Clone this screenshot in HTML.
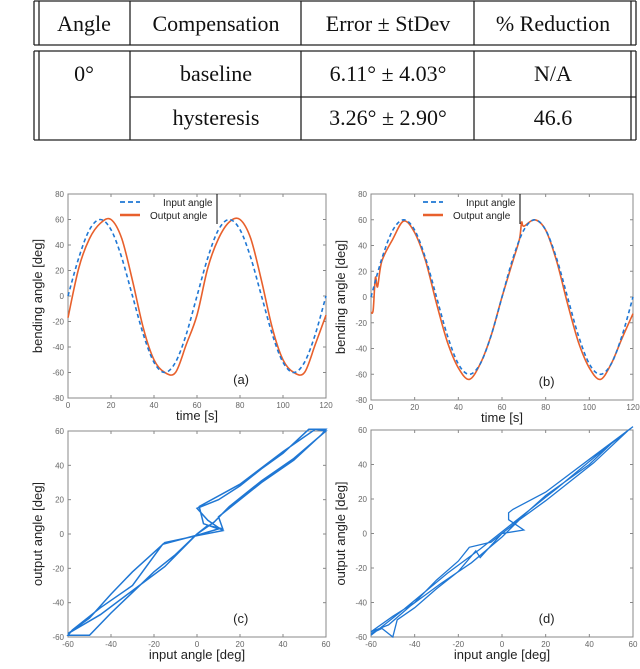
<!DOCTYPE html>
<html><head><meta charset="utf-8"><style>
body{margin:0;background:#fff;width:640px;height:669px;overflow:hidden}
svg{position:absolute;left:0;top:0}
.tb{font-family:"Liberation Serif",serif;font-size:22px;fill:#111}
.tk{font-family:"Liberation Sans",sans-serif;font-size:8px;fill:#666}
.al{font-family:"Liberation Sans",sans-serif;font-size:13px;fill:#222}
</style></head><body>
<svg id="s" width="640" height="669">
<g stroke="#222" stroke-width="1.3" fill="none">
<line x1="34" y1="1" x2="636" y2="1"/><line x1="34" y1="45" x2="636" y2="45"/>
<line x1="34" y1="51" x2="636" y2="51"/><line x1="130" y1="97" x2="636" y2="97"/>
<line x1="34" y1="140" x2="636" y2="140"/>
<line x1="34" y1="1" x2="34" y2="45"/><line x1="39" y1="1" x2="39" y2="45"/>
<line x1="34" y1="51" x2="34" y2="140"/><line x1="39" y1="51" x2="39" y2="140"/>
<line x1="631" y1="1" x2="631" y2="45"/><line x1="636" y1="1" x2="636" y2="45"/>
<line x1="631" y1="51" x2="631" y2="140"/><line x1="636" y1="51" x2="636" y2="140"/>
<line x1="130" y1="1" x2="130" y2="45"/><line x1="130" y1="51" x2="130" y2="140"/>
<line x1="301" y1="1" x2="301" y2="45"/><line x1="301" y1="51" x2="301" y2="140"/>
<line x1="474" y1="1" x2="474" y2="45"/><line x1="474" y1="51" x2="474" y2="140"/>
</g>
<g text-anchor="middle" class="tb">
<text x="84" y="31">Angle</text><text x="216" y="31">Compensation</text>
<text x="388" y="31">Error ± StDev</text><text x="553" y="31">% Reduction</text>
<text x="84" y="81">0°</text><text x="216" y="81">baseline</text>
<text x="388" y="81">6.11° ± 4.03°</text><text x="553" y="81">N/A</text>
<text x="216" y="125">hysteresis</text><text x="388" y="125">3.26° ± 2.90°</text><text x="553" y="125">46.6</text>
</g>
</svg>
<script>
const timeA=[0,5,10,15,20,25,30,35,40,45,50,55,60,65,70,75,80,85,90,95,100,105,110,115,120];
const inputA=[0,30,52,60,52,30,0,-30,-52,-60,-52,-30,0,30,52,60,52,30,0,-30,-52,-60,-52,-30,0];
const outputA=[-17,22,45,57,60,45,12,-25,-50,-60,-60,-38,-15,22,45,58,60,45,12,-25,-50,-60,-60,-38,-15];
const timeB=[0,1,2,3,5,10,15,20,25,30,35,40,45,50,55,60,65,68,69,70,75,80,85,90,95,100,105,110,115,120];
const outputB=[-12,-10,15,8,28,45,59,50,28,-5,-35,-55,-64,-52,-30,0,28,45,58,55,60,52,28,-5,-35,-55,-64,-52,-32,-13];
const loopCx=[-60,-50,-40,-30,-15,0,12,5,0,10,20,30,40,52,60,58,45,30,20,10,12,5,0,-10,-20,-30,-40,-50,-60,-58,-45,-30,-16,2,10,3,1,20,40,55,60,45,30,15,8,0,-15,-30,-45,-60];
const loopCy=[-58,-49,-35,-22,-5,-1,2,8,15,20,28,38,47,61,61,58,43,30,20,10,3,5,0,-12,-22,-34,-46,-59,-59,-56,-43,-30,-6,0,3,6,16,29,48,61,60,44,31,16,7,0,-19,-33,-47,-58];
const loopDx=[-60,-55,-50,-48,-40,-30,-20,-12,-10,0,10,3,3,5,20,40,60,50,40,20,5,-5,-15,-20,-30,-40,-50,-60,-52,-42,-28,-14,0,8,20,42,58,45,25,5,-10,-25,-45,-60];
const loopDy=[-58,-55,-60,-50,-43,-32,-22,-10,-14,0,2,8,12,14,24,43,62,52,40,22,5,-5,-8,-16,-27,-40,-48,-57,-53,-42,-29,-17,-2,8,19,41,60,47,26,6,-9,-23,-44,-59];
const xtT=[0,20,40,60,80,100,120], ytT=[-80,-60,-40,-20,0,20,40,60,80], xtL=[-60,-40,-20,0,20,40,60], ytL=[-60,-40,-20,0,20,40,60];
const NS="http://www.w3.org/2000/svg",S=document.getElementById('s');
function mk(t,a,p){const e=document.createElementNS(NS,t);for(const k in a)e.setAttribute(k,a[k]);(p||S).appendChild(e);return e;}
function panel(name,L,R,T,B,x0,x1,y0,y1,xt,yt,xl,yl,tag){
 const g=mk('g',{});
 const sx=v=>L+(v-x0)/(x1-x0)*(R-L), sy=v=>B-(v-y0)/(y1-y0)*(B-T);
 mk('rect',{x:L,y:T,width:R-L,height:B-T,fill:'none',stroke:'#888','stroke-width':1},g);
 xt.forEach(v=>{mk('line',{x1:sx(v),x2:sx(v),y1:B,y2:B-3,stroke:'#888'},g);mk('line',{x1:sx(v),x2:sx(v),y1:T,y2:T+3,stroke:'#888'},g);const t=mk('text',{x:sx(v),y:B+10,'text-anchor':'middle',class:'tk'},g);t.textContent=v;});
 yt.forEach(v=>{mk('line',{x1:L,x2:L+3,y1:sy(v),y2:sy(v),stroke:'#888'},g);mk('line',{x1:R,x2:R-3,y1:sy(v),y2:sy(v),stroke:'#888'},g);const t=mk('text',{x:L-4,y:sy(v)+3,'text-anchor':'end',class:'tk'},g);t.textContent=v;});
 let t=mk('text',{x:(L+R)/2,y:B+22,'text-anchor':'middle',class:'al'},g);t.textContent=xl;
 t=mk('text',{x:0,y:0,'text-anchor':'middle',class:'al',transform:`translate(${L-26},${(T+B)/2}) rotate(-90)`},g);t.textContent=yl;
 t=mk('text',{x:L+(R-L)*0.64,y:B-14,class:'al'},g);t.textContent=tag;
 return {g,sx,sy};
}
function line(p,xs,ys,col,dash,w,name,smooth){
 const P=xs.map((x,i)=>[p.sx(x),p.sy(ys[i])]);let d='M'+P[0][0].toFixed(1)+','+P[0][1].toFixed(1);
 for(let i=0;i<P.length-1;i++){
  if(!smooth){d+='L'+P[i+1][0].toFixed(1)+','+P[i+1][1].toFixed(1);continue;}
  const p0=P[Math.max(i-1,0)],p1=P[i],p2=P[i+1],p3=P[Math.min(i+2,P.length-1)];
  const c1=[p1[0]+(p2[0]-p0[0])/6,p1[1]+(p2[1]-p0[1])/6],c2=[p2[0]-(p3[0]-p1[0])/6,p2[1]-(p3[1]-p1[1])/6];
  d+=`C${c1[0].toFixed(1)},${c1[1].toFixed(1)} ${c2[0].toFixed(1)},${c2[1].toFixed(1)} ${p2[0].toFixed(1)},${p2[1].toFixed(1)}`;}
 const e=mk('path',{d,fill:'none',stroke:col,'stroke-width':w,'stroke-dasharray':dash||'none'},p.g);
 }
function legend(p,L,T){const g=p.g;
 mk('line',{x1:L+52,x2:L+72,y1:T+8,y2:T+8,stroke:'#1f77d4','stroke-width':1.8,'stroke-dasharray':'5,3'},g);
 mk('line',{x1:L+52,x2:L+72,y1:T+21,y2:T+21,stroke:'#e8602c','stroke-width':2.5},g);
 let t=mk('text',{x:L+95,y:T+12,style:'font:10px "Liberation Sans",sans-serif;fill:#222'},g);t.textContent='Input angle';
 t=mk('text',{x:L+82,y:T+25,style:'font:10px "Liberation Sans",sans-serif;fill:#222'},g);t.textContent='Output angle';
 mk('line',{x1:L+149,x2:L+149,y1:T,y2:T+30,stroke:'#000'},g);}
const A=panel('panel-a',68,326,194,398,0,120,-80,80,xtT,ytT,'time [s]','bending angle [deg]','(a)');
line(A,timeA,outputA,'#e8602c','',1.6,'output-angle-a',true);line(A,timeA,inputA,'#1f77d4','4,3',1.6,'input-angle-a',true);legend(A,68,194);
const Bp=panel('panel-b',371,633,194,400,0,120,-80,80,xtT,ytT,'time [s]','bending angle [deg]','(b)');
line(Bp,timeB,outputB,'#e8602c','',1.6,'output-angle-b',true);line(Bp,timeA,inputA,'#1f77d4','4,3',1.6,'input-angle-b',true);legend(Bp,371,194);
const C=panel('panel-c',68,326,431,637,-60,60,-60,60,xtL,ytL,'input angle [deg]','output angle [deg]','(c)');
line(C,loopCx,loopCy,'#1f77d4','',1.5,'hysteresis-loop-c',false);
const D=panel('panel-d',371,633,430,637,-60,60,-60,60,xtL,ytL,'input angle [deg]','output angle [deg]','(d)');
line(D,loopDx,loopDy,'#1f77d4','',1.3,'hysteresis-loop-d',false);
</script>
</body></html>
